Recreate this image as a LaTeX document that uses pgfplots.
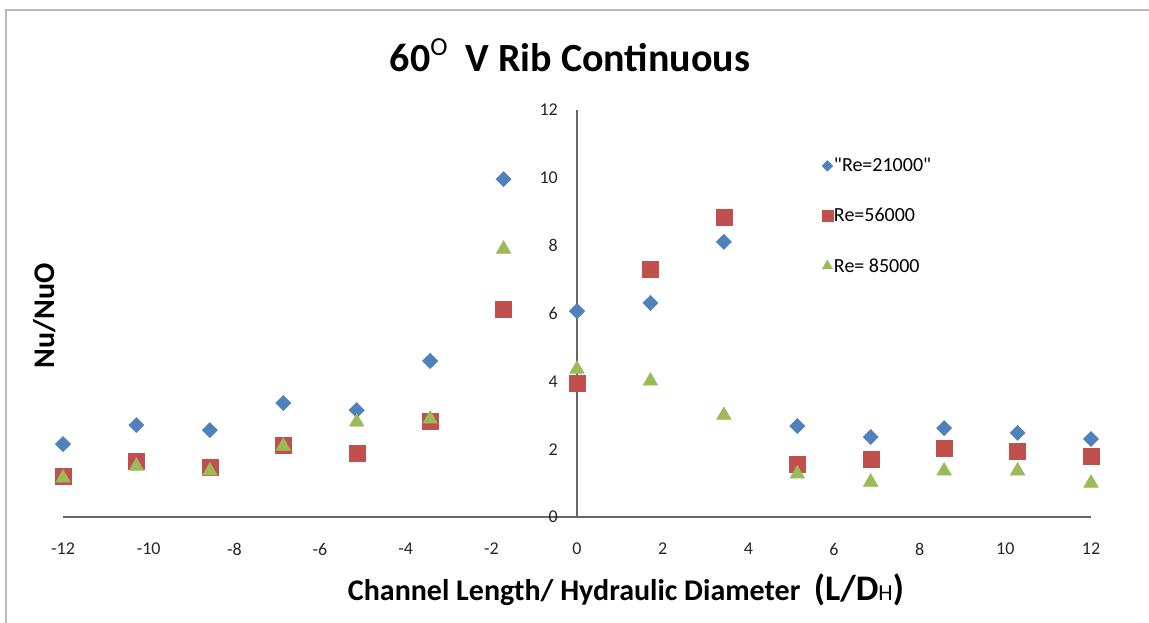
\documentclass[border=0pt]{standalone}
\usepackage{fontspec}
\setmainfont{Carlito}
\newfontfamily\qfont{Carlito}
\usepackage{pgfplots}
\pgfplotsset{compat=1.18}
\definecolor{xblue}{HTML}{4F81BD}
\definecolor{xred}{HTML}{C0504D}
\definecolor{xgreen}{HTML}{9BBB59}
\begin{document}
\begin{tikzpicture}[x=1pt,y=1pt]
\useasboundingbox (0,0) rectangle (1149,-623);
\draw[gray!55, line width=2.5pt] (6,-623) -- (6,-10) -- (1149,-10);
\begin{axis}[
  at={(63pt,-517pt)}, anchor=south west,
  scale only axis, width=1028pt, height=407pt,
  xmin=-12, xmax=12, ymin=0, ymax=12,
  axis lines=middle,
  axis line style={-, gray!80!black, line width=1.2pt},
  xtick={-12,-10,...,12}, ytick={0,2,...,12},
  major tick length=0pt,
  hide obscured x ticks=false, hide obscured y ticks=false,
  /pgf/number format/assume math mode=true,
  tick label style={font=\fontsize{18}{20}\selectfont, text=black!85},
  xticklabel style={anchor=north, inner sep=0pt, yshift=-26pt},
  yticklabel style={anchor=east, inner sep=0pt, xshift=-19pt},
  clip=false,
  legend style={at={(0.735,0.889)}, anchor=north west, draw=none, fill=none,
    font=\fontsize{20}{22}\selectfont, row sep=33pt,
    nodes={inner sep=1pt}},
  legend cell align=left,
  legend image code/.code={\draw[#1] plot coordinates {(0.25cm,0cm)};},
  legend image post style={every mark/.append style={scale=0.7}},
]
\addplot[only marks, mark=square*, mark size=5.4pt, mark options={rotate=45, fill=xblue, draw=xblue}]
coordinates {(-12,2.15) (-10.286,2.71) (-8.571,2.56) (-6.857,3.36) (-5.143,3.15) (-3.429,4.6) (-1.714,9.96) (0,6.07) (1.714,6.31) (3.429,8.11) (5.143,2.68) (6.857,2.36) (8.571,2.62) (10.286,2.48) (12,2.30)};
\addlegendentry{{\qfont "}Re=21000{\qfont "}}
\addplot[only marks, mark=square*, mark size=8pt, mark options={fill=xred, draw=xred}]
coordinates {(-12,1.21) (-10.286,1.65) (-8.571,1.47) (-6.857,2.12) (-5.143,1.89) (-3.429,2.83) (-1.714,6.13) (0,3.95) (1.714,7.31) (3.429,8.84) (5.143,1.56) (6.857,1.71) (8.571,2.03) (10.286,1.95) (12,1.80)};
\addlegendentry{Re=56000}
\addplot[only marks, mark=triangle*, mark size=8.5pt, mark options={fill=xgreen, draw=xgreen}]
coordinates {(-12,1.15) (-10.286,1.5) (-8.571,1.36) (-6.857,2.09) (-5.143,2.8) (-3.429,2.89) (-1.714,7.9) (0,4.36) (1.714,4.01) (3.429,3.0) (5.143,1.27) (6.857,1.03) (8.571,1.36) (10.286,1.36) (12,1.0)};
\addlegendentry{Re= 85000}
\end{axis}
\node[font=\bfseries\fontsize{40}{42}\selectfont, anchor=center] at (570,-55)
  {60\raisebox{0.8ex}{\mdseries\fontsize{26}{26}\selectfont O}\ \ V Rib Continuous};
\node[font=\bfseries\fontsize{30}{32}\selectfont, anchor=base] at (626,-600)
  {Channel Length/ Hydraulic Diameter\ \ {\fontsize{36}{38}\selectfont (L/D{\mdseries\fontsize{23}{23}\selectfont H})}};
\node[font=\bfseries\fontsize{30}{32}\selectfont, rotate=90, anchor=center] at (45,-316) {Nu/NuO};
\end{tikzpicture}
\end{document}
